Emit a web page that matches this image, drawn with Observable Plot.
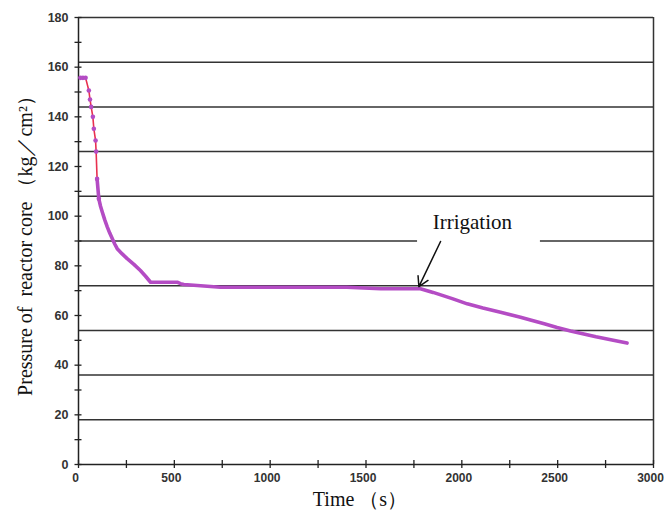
<!DOCTYPE html>
<html>
<head>
<meta charset="utf-8">
<script src="https://cdn.jsdelivr.net/npm/d3@7"></script>
<script src="https://cdn.jsdelivr.net/npm/@observablehq/plot@0.6"></script>
<style>
  html, body { margin: 0; padding: 0; background: #fff; }
  #chart { width: 664px; height: 521px; }
  svg { overflow: visible; }
</style>
</head>
<body>
<div id="chart"></div>
<script>
// Time (s)
const time = [10, 23, 37, 54, 60, 66, 75, 80, 89, 92, 97, 106, 115, 124, 137, 150, 163, 176, 189, 202, 228, 254, 289, 323, 350, 376, 450, 515, 532, 550, 741, 950, 1200, 1400, 1576, 1700, 1784, 1850, 1950, 2028, 2110, 2202, 2306, 2358, 2430, 2497, 2567, 2700, 2790, 2862];
// Pressure of reactor core (kg/cm2)
const pressure = [155.7, 155.7, 155.7, 150.6, 147, 144, 140, 135.2, 130.5, 126, 115, 107, 104, 101.7, 98.5, 95.7, 93.2, 91, 88.8, 86.9, 84.8, 82.9, 80.6, 78.1, 75.8, 73.4, 73.4, 73.4, 72.8, 72.5, 71.4, 71.4, 71.4, 71.4, 70.8, 70.8, 70.8, 69.3, 66.8, 64.7, 63, 61.3, 59.3, 58.2, 56.7, 55.2, 53.8, 51.4, 50, 48.9];

const yTickLabels = [0, 20, 40, 60, 80, 100, 120, 140, 160, 180];
const yMinorTicks = [0, 10, 20, 30, 40, 50, 60, 70, 80, 90, 100, 110, 120, 130, 140, 150, 160, 170, 180];
const xTickLabels = [0, 500, 1000, 1500, 2000, 2500, 3000];
const xMinorTicks = [0, 250, 500, 750, 1000, 1250, 1500, 1750, 2000, 2250, 2500, 2750, 3000];
const gridLines = [18, 36, 54, 72, 90, 108, 126, 144, 162, 180];

const annotationText = ["Irrigation"];
const annotationPos = {x: 2055, y: 97.5};
const annotationGap = {x1: 1769, x2: 2410, y1: 87, y2: 93};
const arrowFrom = {x: 1889, y: 89.8};
const arrowTo = {x: 1776, y: 71.6};

const yLabel = "Pressure of  reactor core （kg／cm²）";
const xLabel = "Time （s）";

const data = time.map((t, i) => ({t, p: pressure[i]}));
const early = data.filter(d => d.t <= 110);
const late = data.filter(d => d.t >= 97);

const tickFont = "'Liberation Sans', Arial, sans-serif";
const serif = "'Liberation Serif', 'Times New Roman', serif";

const chart = Plot.plot({
  width: 664,
  height: 521,
  marginLeft: 78,
  marginRight: 11,
  marginTop: 17,
  marginBottom: 57,
  style: {background: "#fff", overflow: "visible"},
  x: {domain: [0, 3000]},
  y: {domain: [0, 180]},
  marks: [
    Plot.ruleY(gridLines, {stroke: "#333", strokeWidth: 1.5}),
    Plot.rect([annotationGap], {x1: "x1", x2: "x2", y1: "y1", y2: "y2", fill: "#fff"}),
    Plot.ruleX([3000], {stroke: "#333", strokeWidth: 1.5}),
    Plot.ruleX([0], {stroke: "#222", strokeWidth: 1.5}),
    Plot.ruleY([0], {stroke: "#222", strokeWidth: 1.5}),
    // y axis: minor crossing ticks
    Plot.axisY({ticks: yMinorTicks, tickSize: 7, dx: 3.5, text: null, label: null, stroke: "#222", strokeWidth: 1.3}),
    Plot.axisY({ticks: yTickLabels, tickSize: 0, tickPadding: 10, label: null, tickFormat: d => String(d),
      fontSize: 12.5, fontWeight: "bold", fontFamily: tickFont, fill: "#333"}),
    // x axis: crossing ticks
    Plot.axisX({ticks: xMinorTicks, tickSize: 8, dy: -4, text: null, label: null, stroke: "#222", strokeWidth: 1.3}),
    Plot.axisX({ticks: xTickLabels, tickSize: 0, tickPadding: 9, label: null, tickFormat: d => String(d),
      dx: -3, fontSize: 12, fontWeight: "bold", fontFamily: tickFont, fill: "#333"}),
    // data
    Plot.line(data, {x: "t", y: "p", stroke: "#e8304f", strokeWidth: 1.6}),
    Plot.line(late, {x: "t", y: "p", stroke: "#b44cc4", strokeWidth: 3.6, strokeLinejoin: "round", strokeLinecap: "round"}),
    Plot.dot(early, {x: "t", y: "p", r: 2.3, fill: "#b44cc4"}),
    // annotation
    Plot.text(annotationText, {x: () => annotationPos.x, y: () => annotationPos.y, text: d => d,
      fontSize: 21, fontFamily: serif, fill: "#111"}),
    Plot.arrow([{x1: arrowFrom.x, y1: arrowFrom.y, x2: arrowTo.x, y2: arrowTo.y}],
      {x1: "x1", y1: "y1", x2: "x2", y2: "y2", stroke: "#111", strokeWidth: 1.5, headLength: 11}),
    // axis titles
    Plot.text([yLabel], {frameAnchor: "left", rotate: -90, dx: -53, textAnchor: "middle", text: d => d,
      fontSize: 20, fontFamily: serif, fill: "#111"}),
    Plot.text([xLabel], {frameAnchor: "bottom", dy: 41, dx: -6, text: d => d,
      fontSize: 20, fontFamily: serif, fill: "#111"})
  ]
});
document.getElementById("chart").appendChild(chart);
</script>
</body>
</html>
